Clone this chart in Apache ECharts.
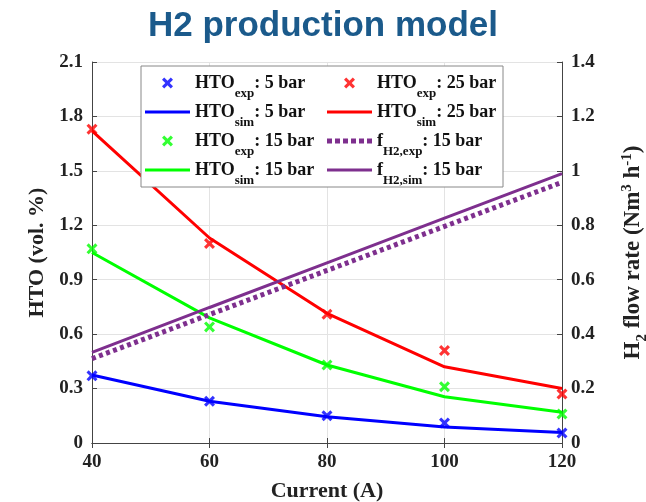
<!DOCTYPE html>
<html>
<head>
<meta charset="utf-8">
<script src="https://cdn.jsdelivr.net/npm/echarts@6/dist/echarts.min.js"></script>
<style>
  html, body { margin: 0; padding: 0; background: #fff; }
  #chart { width: 646px; height: 502px; }
</style>
</head>
<body>
<div id="chart"></div>
<script>
// Operating current (A)
const current = [40, 60, 80, 100, 120];

// HTO content in H2 (vol. %), measured and simulated
const htoExp5 = [0.37, 0.23, 0.15, 0.11, 0.055];
const htoSim5 = [0.375, 0.23, 0.145, 0.088, 0.058];
const htoExp25 = [1.73, 1.10, 0.71, 0.51, 0.27];
const htoSim25 = [1.72, 1.13, 0.715, 0.42, 0.30];
const htoExp15 = [1.07, 0.64, 0.43, 0.31, 0.16];
const htoSim15 = [1.05, 0.69, 0.43, 0.255, 0.17];

// H2 flow rate (Nm3/h) at 15 bar
const fH2Exp15 = [0.31, 0.472, 0.634, 0.796, 0.958];
const fH2Sim15 = [0.333, 0.498, 0.662, 0.826, 0.99];

const leftTicks = { min: 0, max: 2.1, interval: 0.3 };
const rightTicks = { min: 0, max: 1.4, interval: 0.2 };
const xTicks = { min: 40, max: 120, interval: 20 };

const pairs = ys => current.map((x, i) => [x, ys[i]]);

const BLUE = '#0000ff', RED = '#ff0000', GREEN = '#00ff00', PURPLE = '#7e2f8e';
const SERIF = '"Liberation Serif", "DejaVu Serif", serif';
const CROSS = 'path://M2,0 L5,3 L8,0 L10,2 L7,5 L10,8 L8,10 L5,7 L2,10 L0,8 L3,5 L0,2 Z';
// legend swatches: solid stroke and square-dotted stroke
const SOLID_ICON = 'path://M0,0 H45 V3 H0 Z';
const DOT_ICON = 'path://M0,0h5v5h-5z M8,0h5v5h-5z M16,0h5v5h-5z M24,0h5v5h-5z M32,0h5v5h-5z M40,0h5v5h-5z';

const richLegend = {
  b: { fontFamily: SERIF, fontWeight: 'bold', fontSize: 18, color: '#111', lineHeight: 22 },
  s: { fontFamily: SERIF, fontWeight: 'bold', fontSize: 13, color: '#111', lineHeight: 12, verticalAlign: 'bottom', padding: [0, 0, -6, 0] }
};
const legendLabel = {
  e5: '{b|HTO}{s|exp}{b|: 5 bar}',
  s5: '{b|HTO}{s|sim}{b|: 5 bar}',
  e25: '{b|HTO}{s|exp}{b|: 25 bar}',
  s25: '{b|HTO}{s|sim}{b|: 25 bar}',
  e15: '{b|HTO}{s|exp}{b|: 15 bar}',
  s15: '{b|HTO}{s|sim}{b|: 15 bar}',
  fe15: '{b|f}{s|H2,exp}{b|: 15 bar}',
  fs15: '{b|f}{s|H2,sim}{b|: 15 bar}'
};

function scatter(name, color, data) {
  return {
    name, type: 'scatter', data: pairs(data), yAxisIndex: 0,
    symbol: CROSS, symbolSize: 11, itemStyle: { color }, z: 5
  };
}
function line(name, color, data, yAxisIndex, dashed) {
  return {
    name, type: 'line', data: pairs(data), yAxisIndex,
    showSymbol: false, symbol: 'none',
    lineStyle: dashed ? { color, width: 5, type: [4, 3.5] } : { color, width: 3 },
    itemStyle: { color }
  };
}

const legendCommon = {
  orient: 'vertical', itemWidth: 45, itemHeight: 11, itemGap: 3,
  formatter: n => legendLabel[n],
  textStyle: { rich: richLegend }, selectedMode: false
};

const axisName = { fontFamily: SERIF, fontWeight: 'bold', fontSize: 22, color: '#222' };

const option = {
  animation: false,
  backgroundColor: '#fff',
  title: {
    text: 'H2 production model', left: 'center', top: 4,
    textStyle: { fontFamily: '"Liberation Sans", Arial, sans-serif', fontWeight: 'bold', fontSize: 35, color: '#1b5a8b' }
  },
  grid: { left: 92, right: 84, top: 62, bottom: 59, outerBoundsMode: 'none', containLabel: false },
  graphic: [{
    type: 'rect', shape: { x: 141, y: 66, width: 362, height: 121 },
    style: { fill: '#fff', stroke: '#888', lineWidth: 1 }, z: 90
  }],
  legend: [
    Object.assign({ left: 140, top: 69, z: 100, data: [
      { name: 'e5' }, { name: 's5', icon: SOLID_ICON }, { name: 'e15' }, { name: 's15', icon: SOLID_ICON }
    ] }, legendCommon),
    Object.assign({ left: 322, top: 69, z: 100, data: [
      { name: 'e25' }, { name: 's25', icon: SOLID_ICON }, { name: 'fe15', icon: DOT_ICON }, { name: 'fs15', icon: SOLID_ICON }
    ] }, legendCommon)
  ],
  xAxis: [{
    type: 'value', min: xTicks.min, max: xTicks.max, interval: xTicks.interval,
    name: 'Current (A)', nameLocation: 'middle', nameGap: 37,
    nameTextStyle: axisName,
    axisLine: { lineStyle: { color: '#444' } },
    axisTick: { inside: true, length: 5, lineStyle: { color: '#444' } },
    axisLabel: { fontFamily: SERIF, fontWeight: 'bold', fontSize: 19, color: '#222', margin: 10 },
    splitLine: { show: true, lineStyle: { color: '#e3e3e3' } }
  }, {
    type: 'value', position: 'top', min: xTicks.min, max: xTicks.max, interval: xTicks.interval,
    axisLine: { lineStyle: { color: '#444' } },
    axisTick: { inside: true, length: 5, lineStyle: { color: '#444' } },
    axisLabel: { show: false }, splitLine: { show: false }
  }],
  yAxis: [{
    type: 'value', min: leftTicks.min, max: leftTicks.max, interval: leftTicks.interval,
    name: 'HTO (vol. %)', nameLocation: 'middle', nameGap: 43, nameRotate: 90,
    nameTextStyle: axisName,
    axisLine: { show: true, lineStyle: { color: '#444' } },
    axisTick: { show: true, inside: true, length: 5, lineStyle: { color: '#444' } },
    axisLabel: { fontFamily: SERIF, fontWeight: 'bold', fontSize: 19, color: '#222', margin: 9 },
    splitLine: { show: true, lineStyle: { color: '#e3e3e3' } }
  }, {
    type: 'value', position: 'right', min: rightTicks.min, max: rightTicks.max, interval: rightTicks.interval,
    name: '{a|H}{sub|2}{a| flow rate (Nm}{sup|3}{a| h}{sup|-1}{a|)}',
    nameLocation: 'middle', nameGap: 58, nameRotate: 90,
    nameTextStyle: {
      rich: {
        a: { fontFamily: SERIF, fontWeight: 'bold', fontSize: 23, color: '#222', lineHeight: 26 },
        sub: { fontFamily: SERIF, fontWeight: 'bold', fontSize: 15, color: '#222', lineHeight: 14, verticalAlign: 'bottom', padding: [0, 0, -4, 0] },
        sup: { fontFamily: SERIF, fontWeight: 'bold', fontSize: 15, color: '#222', lineHeight: 14, verticalAlign: 'top' }
      }
    },
    axisLine: { show: true, lineStyle: { color: '#444' } },
    axisTick: { show: true, inside: true, length: 5, lineStyle: { color: '#444' } },
    axisLabel: { fontFamily: SERIF, fontWeight: 'bold', fontSize: 19, color: '#222', margin: 9 },
    splitLine: { show: false }
  }],
  series: [
    line('s25', RED, htoSim25, 0),
    line('s15', GREEN, htoSim15, 0),
    line('s5', BLUE, htoSim5, 0),
    line('fe15', PURPLE, fH2Exp15, 1, true),
    line('fs15', PURPLE, fH2Sim15, 1),
    scatter('e25', RED, htoExp25),
    scatter('e15', GREEN, htoExp15),
    scatter('e5', BLUE, htoExp5)
  ]
};

echarts.init(document.getElementById('chart'), null, { renderer: 'canvas' }).setOption(option);
</script>
</body>
</html>
